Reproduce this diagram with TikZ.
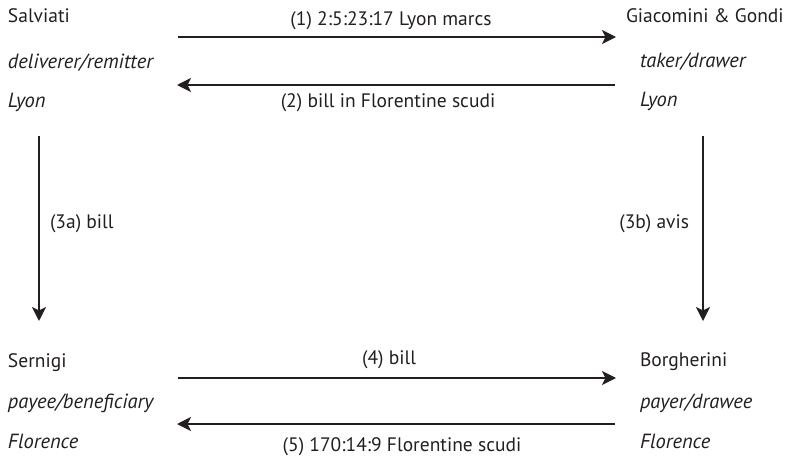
\documentclass[tikz,border=0pt]{standalone}
\usepackage{fontspec}
\setmainfont{PT Sans}
\usetikzlibrary{arrows.meta}
\definecolor{ink}{HTML}{231F20}
\tikzset{
  txt/.style={inner sep=0pt, outer sep=0pt, text=ink, font=\fontsize{19.5}{22}\selectfont},
  lbl/.style={txt, anchor=base west},
  role/.style={txt, anchor=base west, font=\fontsize{20.5}{22}\selectfont\itshape},
  mid/.style={txt, anchor=base},
  flow/.style={draw=ink, line width=2pt, -{Stealth[length=14pt, width=14pt, inset=3.5pt]}}
}
\begin{document}
\begin{tikzpicture}[x=1pt, y=-1pt]
\useasboundingbox (0,0) rectangle (808,457);
% top-left party
\node[lbl]  (salv)  at (8,23)  {Salviati};
\node[role] (salvr) at (8,69)  {deliverer/remitter};
\node[role] (salvl) at (8,108) {Lyon};
% top-right party
\node[lbl]  (giac)  at (626,23)  {Giacomini \& Gondi};
\node[role] (giacr) at (640,68)  {taker/drawer};
\node[role] (giacl) at (640,107) {Lyon};
% bottom-left party
\node[lbl]  (sern)  at (8,367)  {Sernigi};
\node[role] (sernr) at (8,408)  {payee/beneficiary};
\node[role] (sernl) at (8,448)  {Florence};
% bottom-right party
\node[lbl]  (borg)  at (640,366) {Borgherini};
\node[role] (borgr) at (640,408) {payer/drawee};
\node[role] (borgl) at (640,448) {Florence};
% arrow end points
\coordinate (a1s) at (178,37);  \coordinate (a1e) at (616,37);
\coordinate (a2s) at (615,85);  \coordinate (a2e) at (177,85);
\coordinate (a4s) at (178,378); \coordinate (a4e) at (616,378);
\coordinate (a5s) at (615,424); \coordinate (a5e) at (177,424);
\coordinate (a3as) at (39,136); \coordinate (a3ae) at (39,321);
\coordinate (a3bs) at (703,136); \coordinate (a3be) at (703,321);
% connectors
\draw[flow] (a1s) -- (a1e);
\draw[flow] (a2s) -- (a2e);
\draw[flow] (a4s) -- (a4e);
\draw[flow] (a5s) -- (a5e);
\draw[flow] (a3as) -- (a3ae);
\draw[flow] (a3bs) -- (a3be);
% labels
\node[mid] (l1) at (391,26)  {(1) 2:5:23:17 Lyon marcs};
\node[mid] (l2) at (388,108) {(2) bill in Florentine scudi};
\node[mid] (l4) at (389,364) {(4) bill};
\node[mid] (l5) at (402,451) {(5) 170:14:9 Florentine scudi};
\node[lbl] (l3a) at (50,229) {(3a) bill};
\node[txt, anchor=base east] (l3b) at (689,229) {(3b) avis};
\end{tikzpicture}
\end{document}
